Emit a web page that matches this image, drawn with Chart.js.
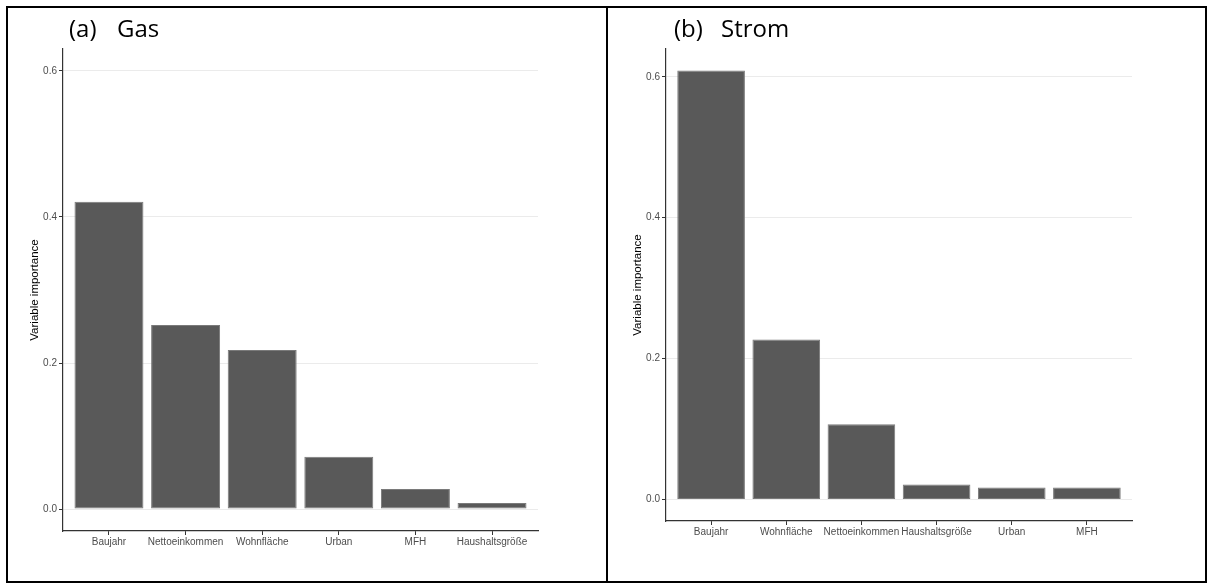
<!DOCTYPE html>
<html>
<head>
<meta charset="utf-8">
<script src="https://cdn.jsdelivr.net/npm/chart.js@4.4.1/dist/chart.umd.min.js"></script>
<style>
    body { margin: 0; background: #fff; }
    .page { position: relative; width: 1212px; height: 588px; overflow: hidden; background: #fff; }
    .panel { position: absolute; top: 0; width: 606px; height: 588px; }
    .frame { position: absolute; background: #000; z-index: 5; }
    .head { position: absolute; font-family: "Open Sans", sans-serif; font-size: 24px; line-height: 24px; color: #000; z-index: 6; white-space: nowrap; }
</style>
</head>
<body>
<div class="page">
    <div class="panel" style="left:0"><canvas id="gasChart"></canvas></div>
    <div class="panel" style="left:606px"><canvas id="stromChart"></canvas></div>

    <div class="head" style="left:69px; top:16px">(a)</div>
    <div class="head" style="left:117px; top:16px">Gas</div>
    <div class="head" style="left:674px; top:16px">(b)</div>
    <div class="head" style="left:721px; top:16px">Strom</div>

    <div class="frame" style="left:6px; top:6px; width:1201px; height:2px"></div>
    <div class="frame" style="left:6px; top:581px; width:1201px; height:2px"></div>
    <div class="frame" style="left:6px; top:6px; width:2px; height:577px"></div>
    <div class="frame" style="left:606px; top:6px; width:2px; height:577px"></div>
    <div class="frame" style="left:1205px; top:6px; width:2px; height:577px"></div>
</div>

<script>
// (a) Gas
const gas_labels = ["Baujahr", "Nettoeinkommen", "Wohnfläche", "Urban", "MFH", "Haushaltsgröße"]
const gas_values = [0.421, 0.252, 0.218, 0.0715, 0.0275, 0.0082]

// (b) Strom
const strom_labels = ["Baujahr", "Wohnfläche", "Nettoeinkommen", "Haushaltsgröße", "Urban", "MFH"]
const strom_values = [0.609, 0.227, 0.107, 0.0214, 0.0171, 0.0171]

const y_ticks = [0.0, 0.2, 0.4, 0.6]

const font_family = "'Liberation Sans', Arial, sans-serif"

function makeChart(id, labels, values, box) {
    const canvas = document.getElementById(id)
    canvas.width = 606
    canvas.height = 588
    canvas.style.width = "606px"
    canvas.style.height = "588px"

    return new Chart(canvas.getContext("2d"), {
        type: "bar",
        data: {
            datasets: [{
                data: labels.map((l, i) => ({ x: i + 1, y: values[i] })),
                backgroundColor: "#595959",
                borderColor: "#7a7a7a",
                borderWidth: 1,
                borderSkipped: false,
                barPercentage: 0.9,
                categoryPercentage: 1.0
            }]
        },
        options: {
            responsive: false,
            animation: false,
            layout: {
                padding: { left: 0, top: box.top, right: box.right, bottom: 0 }
            },
            plugins: {
                legend: { display: false },
                tooltip: { enabled: false }
            },
            scales: {
                x: {
                    type: "linear",
                    offset: false,
                    min: 0.4,
                    max: labels.length + 0.6,
                    afterFit: s => { s.height = box.bottom },
                    afterBuildTicks: s => { s.ticks = labels.map((l, i) => ({ value: i + 1 })) },
                    border: { display: true, color: "#333", width: 1.2 },
                    grid: { offset: false, drawOnChartArea: false, drawTicks: true, tickLength: 4, tickColor: "#333" },
                    ticks: {
                        autoSkip: false,
                        maxRotation: 0,
                        padding: 1,
                        color: "#4d4d4d",
                        font: { family: font_family, size: 10 },
                        callback: v => labels[Math.round(v) - 1] || ""
                    }
                },
                y: {
                    min: box.ymin,
                    max: box.ymax,
                    afterFit: s => { s.width = box.left },
                    afterBuildTicks: s => { s.ticks = y_ticks.map(v => ({ value: v })) },
                    border: { display: true, color: "#333", width: 1.2 },
                    grid: { color: "#ebebeb", lineWidth: 1, drawTicks: true, tickLength: 4, tickColor: "#333" },
                    ticks: {
                        padding: 2,
                        color: "#4d4d4d",
                        font: { family: font_family, size: 10 },
                        callback: v => v.toFixed(1)
                    },
                    title: {
                        display: true,
                        text: "Variable importance",
                        color: "#000",
                        font: { family: font_family, size: 11.5 },
                        padding: { top: box.titlePad, bottom: 0 }
                    }
                }
            }
        }
    })
}

makeChart("gasChart", gas_labels, gas_values, {
    left: 63, right: 68, top: 49, bottom: 57, ymin: -0.03, ymax: 0.63, titlePad: 28
})

makeChart("stromChart", strom_labels, strom_values, {
    left: 60, right: 80, top: 49, bottom: 67, ymin: -0.0305, ymax: 0.6395, titlePad: 25
})
</script>
</body>
</html>
